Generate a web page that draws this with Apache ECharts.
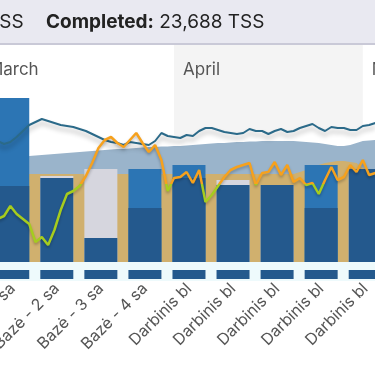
<!DOCTYPE html>
<html><head><meta charset="utf-8">
<script src="https://cdn.jsdelivr.net/npm/echarts@6/dist/echarts.min.js"></script>
<style>html,body{margin:0;padding:0;background:#fff;}#c{width:375px;height:366px;}</style>
</head><body><div id="c"></div>
<script>
// ---- data ----
const completedTotal = '23,688 TSS';
const months = ['March', 'April', 'May'];
const monthStartDays = [0, 31, 61];           // days since 1 March
const weekLabels = ['Bazė - 1 sa','Bazė - 2 sa','Bazė - 3 sa','Bazė - 4 sa','Darbinis bl','Darbinis bl','Darbinis bl','Darbinis bl','Darbinis bl'];
const weekCenters = [5.38, 12.38, 19.38, 26.38, 33.38, 40.38, 47.38, 54.38, 61.38];
const plannedTSS   = [380, 430, 465, 270, 420, 410, 385, 270, 465];
const completedTSS = [820, 420, 120, 465, 485, 385, 385, 485, 465];
const days = [3,4,5,6,7,8,9,10,11,12,13,14,15,16,17,18,19,20,21,22,23,24,25,26,27,28,29,30,31,32,33,34,35,36,37,38,39,40,41,42,43,44,45,46,47,48,49,50,51,52,53,54,55,56,57,58,59,60,61,62,63];
const fitnessCTL = [52,52,52.3,52.5,52.8,53,53.3,53.5,53.8,54,54.3,54.5,54.8,55,55.3,55.5,55.8,56,56.3,56.5,56.5,56.8,57,57.3,57.5,57.5,57.8,57.8,58,58,58.3,58.5,58.8,59,59.3,59.5,59.5,59.8,60,60,60.3,60.3,60.5,60.5,60.5,60.5,60.5,60.5,60.3,60,59.8,59.5,59,58.5,58,58,58.5,59.5,60.5,60.8,61];
const fatigueATL = [60.5,59,60,62.5,65.5,68.5,70,71.5,70.5,69.5,68.5,68,67.5,66.5,65.5,64,62.5,61,60,59.5,58.5,60,59.5,59,58.5,60.5,64.5,63,62.5,62,63.5,63,65.5,67,67,66,65,64.5,64,64.5,66.5,65.5,65.5,64,65.5,66.5,65,65.5,67,68,69,67,65.5,67.5,67,67,66,66,68,68.5,69.5];
const formTSB = [-8.5,-7,-2,-6,-8.5,-11,-20,-17.5,-21.5,-14,-4,4,5.5,8,13,19.5,27,31,32.5,29.5,27.5,31,34.5,29.5,25,28.5,21,5.5,12,12.5,15,9.5,16,0,3.5,8,12.5,16,17.5,18.5,19.5,8.5,14.5,15,20,13.5,18.5,10,12,8.5,9.5,4,11,17.5,11,12.5,18.5,15,21,13.5,14.5];
const formThreshold = 9;
const phaseLevel = [44,44,44,44,44,44,44,44,44,44,44,44,44,44,44,44,44,44,44,44,44,44,44,44,44,44,44,44,44,44,44,44,44,44,44,44,44,44,44,44,44,44,44,44,44,44,44,44,45,46,47.5,48.5,49.5,50,50.5,50.5,50,49.5,47,46,45];

// ---- build ----
const pairs = (xs, ys) => xs.map((x, i) => [x, ys[i]]);
const XMIN = 3.355, XMAX = 62.935;
const FONT = 'Inter, "Noto Sans", sans-serif';
const ORANGE = '#f6a11d', GREEN = '#a6cc1e';

const backBars = weekCenters.map((x, i) => ({
  value: [x, Math.max(plannedTSS[i], completedTSS[i])],
  itemStyle: { color: completedTSS[i] > plannedTSS[i] ? '#2c75b4' : '#d6d6de' }
}));
const frontBars = weekCenters.map((x, i) => [x, Math.min(plannedTSS[i], completedTSS[i])]);

const chart = echarts.init(document.getElementById('c'), null, { renderer: 'canvas' });
chart.setOption({
  animation: false,
  textStyle: { fontFamily: FONT },
  grid: [
    { left: 0, right: 0, top: 45, height: 217, outerBoundsMode: 'none', containLabel: false },
    { left: 0, right: 0, top: 262, height: 19, show: true, backgroundColor: '#eefafc', borderWidth: 0, outerBoundsMode: 'none', containLabel: false }
  ],
  xAxis: [
    { type: 'value', gridIndex: 0, min: XMIN, max: XMAX, show: false },
    { type: 'value', gridIndex: 1, min: XMIN, max: XMAX,
      axisLine: { show: false }, axisTick: { show: false }, splitLine: { show: false },
      axisLabel: { customValues: weekCenters, rotate: 45, margin: 5, color: '#555', fontSize: 16, fontFamily: FONT, hideOverlap: false,
        formatter: v => { let b = 0; weekCenters.forEach((c, i) => { if (Math.abs(c - v) < Math.abs(weekCenters[b] - v)) b = i; }); return weekLabels[b]; } } }
  ],
  yAxis: [
    { type: 'value', gridIndex: 0, min: 0, max: 1085, show: false },
    { type: 'value', gridIndex: 0, min: 0, max: 108.5, show: false },
    { type: 'value', gridIndex: 0, min: -30, max: 78.5, show: false },
    { type: 'value', gridIndex: 1, min: -2, max: 17, show: false }
  ],
  series: [
    { type: 'line', xAxisIndex: 0, yAxisIndex: 1, data: pairs(days, fatigueATL), symbol: 'none',
      lineStyle: { width: 0 }, areaStyle: { color: '#ffffff', opacity: 1 }, z: 1 },
    { type: 'line', xAxisIndex: 0, yAxisIndex: 1, data: pairs(days, fitnessCTL), symbol: 'none',
      lineStyle: { width: 0 }, areaStyle: { color: '#9ab4cb', opacity: 1 }, z: 1 },
    { type: 'line', xAxisIndex: 0, yAxisIndex: 1, data: pairs(days, phaseLevel), symbol: 'none',
      lineStyle: { width: 0 }, areaStyle: { color: '#d0b06e', opacity: 1 }, z: 1 },
    { type: 'bar', xAxisIndex: 0, yAxisIndex: 0, data: backBars, barWidth: 33, barGap: '-100%', z: 2 },
    { type: 'bar', xAxisIndex: 0, yAxisIndex: 0, data: frontBars, barWidth: 33, barGap: '-100%',
      itemStyle: { color: '#24598d' }, z: 2 },
    { type: 'bar', xAxisIndex: 1, yAxisIndex: 3, data: weekCenters.map(x => [x, 9]), barWidth: 33,
      itemStyle: { color: '#24598d' }, z: 2 },
    { type: 'line', xAxisIndex: 0, yAxisIndex: 1, data: pairs(days, fatigueATL), symbol: 'none',
      lineStyle: { width: 2, color: '#2b6a89', shadowColor: 'rgba(0,0,0,0.3)', shadowBlur: 5, shadowOffsetY: 4 }, z: 3 },
    { id: 'tsb', type: 'line', xAxisIndex: 0, yAxisIndex: 2, data: pairs(days, formTSB), symbol: 'none',
      lineStyle: { width: 2.5, color: ORANGE, shadowColor: 'rgba(0,0,0,0.25)', shadowBlur: 3, shadowOffsetY: 2 }, z: 4 }
  ]
});

// colour the form line by its threshold, using the axis scale
const H = 366;
const yThr = chart.convertToPixel({ yAxisIndex: 2 }, formThreshold) / H;
chart.setOption({ series: [{ id: 'tsb', lineStyle: { color: { type: 'linear', x: 0, y: 0, x2: 0, y2: H, global: true,
  colorStops: [{ offset: 0, color: ORANGE }, { offset: yThr, color: ORANGE }, { offset: yThr, color: GREEN }, { offset: 1, color: GREEN }] } } }] });

// month bands and header drawn from the axis scale
const px = d => chart.convertToPixel({ xAxisIndex: 0 }, d);
const graphics = [
  { type: 'rect', shape: { x: 0, y: 0, width: 375, height: 43 }, style: { fill: '#e9e9f1' }, z: 10 },
  { type: 'rect', shape: { x: 0, y: 43, width: 375, height: 2 }, style: { fill: '#c9c9d7' }, z: 10 },
  { type: 'text', x: -13, y: 22, style: { text: 'TSS', fill: '#222', font: '19px ' + FONT, verticalAlign: 'middle' }, z: 11 },
  { type: 'text', x: 46, y: 22, style: { text: '{b|Completed:} ' + completedTotal, fill: '#222', font: '19px ' + FONT, verticalAlign: 'middle',
      rich: { b: { fontWeight: 'bold', fontSize: 19, fontFamily: FONT, fill: '#222' } } }, z: 11 }
];
months.forEach((m, i) => {
  const x0 = px(monthStartDays[i]);
  const x1 = i + 1 < months.length ? px(monthStartDays[i + 1]) : 400;
  if (i % 2 === 1) graphics.push({ type: 'rect', shape: { x: x0, y: 45, width: x1 - x0, height: 217 }, style: { fill: '#f4f4f4' }, z: -10 });
  graphics.push({ type: 'text', x: x0 + 9, y: 70, style: { text: m, fill: '#555', font: '17px ' + FONT, verticalAlign: 'middle' }, z: 11 });
});
chart.setOption({ graphic: { elements: graphics } });
</script></body></html>
